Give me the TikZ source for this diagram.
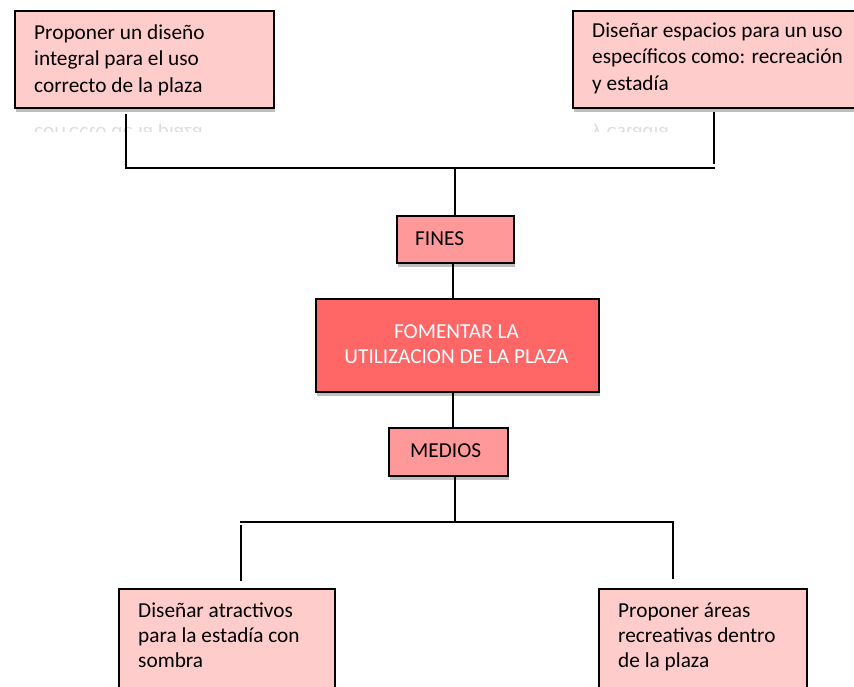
\documentclass[tikz,border=0pt]{standalone}
\usepackage{fontspec}
\setmainfont{Carlito}
\usetikzlibrary{shadows,calc}
\definecolor{lightpink}{RGB}{255,204,204}
\definecolor{midpink}{RGB}{255,153,153}
\definecolor{mainred}{RGB}{255,102,102}
\tikzset{
  box/.style={draw=black, line width=2.2pt, rectangle, inner sep=0pt, anchor=north west,
    drop shadow={shadow xshift=1pt, shadow yshift=-4pt, opacity=0.25, fill=black}},
  txt/.style={font=\fontsize{21.3}{26.3}\selectfont, align=left, inner sep=0pt, anchor=base west},
  refl/.style={txt, text=black, opacity=0.13, yscale=-1},
  conn/.style={line width=2.5pt, line cap=rect}
}
\begin{document}
\begin{tikzpicture}[x=1pt,y=-1pt]
\useasboundingbox (0,0) rectangle (854,686);
\fill[white] (0,0) rectangle (854,686);

% top boxes
\node[box, fill=lightpink, minimum width=259pt, minimum height=97pt] (b1) at (14,10) {};
\node[box, fill=lightpink, minimum width=300pt, minimum height=97pt] (b2) at (572,10) {};
\node[txt] (t1) at (34,92) {Proponer un diseño\\integral para el uso\\correcto de la plaza};
\node[txt] (t2) at (592,90) {Diseñar espacios para un uso\\específicos como: recreación\\y estadía};

% reflections
\begin{scope}
  \clip (14,110) rectangle (273,131);
  \node[refl] (r1) at (34,127) {correcto de la plaza};
\end{scope}
\begin{scope}
  \clip (572,110) rectangle (854,131);
  \node[refl] (r2) at (592,127) {y estadía};
\end{scope}

% middle boxes
\node[box, fill=midpink, minimum width=117pt, minimum height=47pt] (fines) at (396,215) {};
\node[txt] (ft) at (415,245) {FINES};
\node[box, fill=mainred, minimum width=283pt, minimum height=93pt] (main) at (315,298) {};
\node[font=\fontsize{21.3}{25}\selectfont, text=white, align=center, inner sep=0pt, anchor=base] (mt) at (456.5,363) {FOMENTAR LA\\UTILIZACION DE LA PLAZA};
\node[box, fill=midpink, minimum width=119pt, minimum height=48pt] (medios) at (388,427) {};
\node[txt] (mdt) at (410,457) {MEDIOS};

% bottom boxes
\node[box, fill=lightpink, minimum width=216pt, minimum height=120pt] (b3) at (118,588) {};
\node[box, fill=lightpink, minimum width=208pt, minimum height=120pt] (b4) at (598,588) {};
\node[txt, font=\fontsize{21.3}{24.7}\selectfont] (t3) at (138,667) {Diseñar atractivos\\para la estadía con\\sombra};
\node[txt, font=\fontsize{21.3}{24.7}\selectfont] (t4) at (618,667) {Proponer áreas\\recreativas dentro\\de la plaza};

% connectors top
\coordinate (jl) at (126,168);
\coordinate (jr) at (714,168);
\coordinate (jc) at (455,168);
\draw[conn] ($(b1.south -| jl)+(0,6)$) -- (jl) -- (jr);
\draw[conn] ($(b2.south -| jr)+(0,4)$) -- ($(jr)+(0,-5)$);
\draw[conn] (jc) -- (fines.north -| jc);
\draw[conn] (fines.south -| 453,0) -- (main.north -| 453,0);

% connectors bottom
\coordinate (jm) at (455,522);
\coordinate (jbl) at (241,522);
\coordinate (jbr) at (673,522);
\draw[conn] (main.south -| 453,0) -- (medios.north -| 453,0);
\draw[conn] (medios.south -| jm) -- (jm);
\draw[conn] (jbl) -- (jbr);
\draw[conn] ($(jbl)+(0,4)$) -- ($(b3.north -| jbl)+(0,-8)$);
\draw[conn] (jbr) -- ($(b4.north -| jbr)+(0,-10)$);
\end{tikzpicture}
\end{document}
